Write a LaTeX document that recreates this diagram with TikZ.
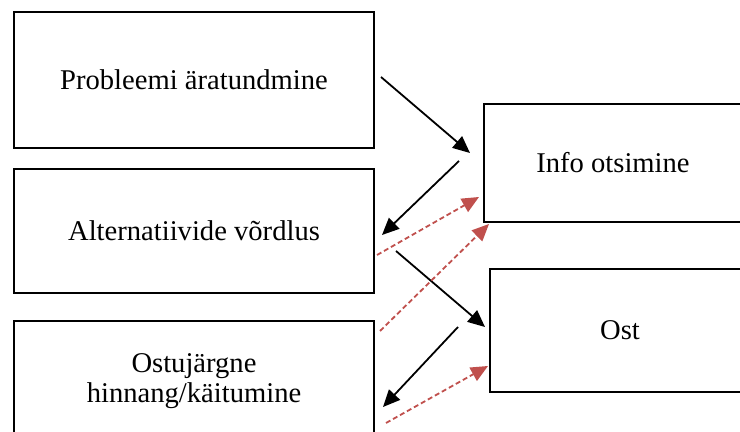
\documentclass[tikz,border=0pt]{standalone}
\usepackage{fontspec}
\setmainfont{Liberation Serif}
\usetikzlibrary{arrows.meta}
\definecolor{dashred}{RGB}{192,80,77}
\tikzset{
  box/.style={draw, rectangle, line width=1pt, inner sep=0pt, align=center,
    font=\fontsize{14.3}{15}\selectfont},
  blackarrow/.style={line width=0.9pt, -{Triangle[length=8.5pt,width=7.5pt]}},
  redarrow/.style={dashred, line width=0.9pt, dash pattern=on 2.5pt off 1.5pt,
    -{Triangle[length=8.5pt,width=7.5pt]}}
}

\begin{document}
\begin{tikzpicture}[x=0.5pt,y=-0.5pt]
  \useasboundingbox (0,0) rectangle (740,432);
  \clip (0,0) rectangle (740,432);

  \node[box, minimum width=180pt, minimum height=68pt] (probleem) at (194,80) {Probleemi äratundmine};
  \node[box, minimum width=180pt, minimum height=62pt] (alternatiivid) at (194,231) {Alternatiivide võrdlus};
  \node[box, minimum width=180pt, minimum height=60pt] (hinnang) at (194,381) {Ostujärgne\\hinnang/käitumine};
  \node[box, minimum width=129pt, minimum height=59pt] (info) at (613,163) {Info otsimine};
  \node[box, minimum width=130pt, minimum height=61.5pt] (ost) at (620,330.5) {Ost};

  \coordinate (a1) at (381,77);
  \coordinate (a2) at (470,153);
  \coordinate (b1) at (459,161);
  \coordinate (b2) at (382,235);
  \coordinate (c1) at (396,251);
  \coordinate (c2) at (485,327);
  \coordinate (d1) at (458,327);
  \coordinate (d2) at (383,407);
  \coordinate (r1) at (377,255);
  \coordinate (r2) at (479,197);
  \coordinate (s1) at (380,331);
  \coordinate (s2) at (489,224);
  \coordinate (t1) at (386,423);
  \coordinate (t2) at (488,366);

  \draw[blackarrow] (a1) -- (a2);
  \draw[blackarrow] (b1) -- (b2);
  \draw[blackarrow] (c1) -- (c2);
  \draw[blackarrow] (d1) -- (d2);
  \draw[redarrow] (r1) -- (r2);
  \draw[redarrow] (s1) -- (s2);
  \draw[redarrow] (t1) -- (t2);
\end{tikzpicture}
\end{document}
